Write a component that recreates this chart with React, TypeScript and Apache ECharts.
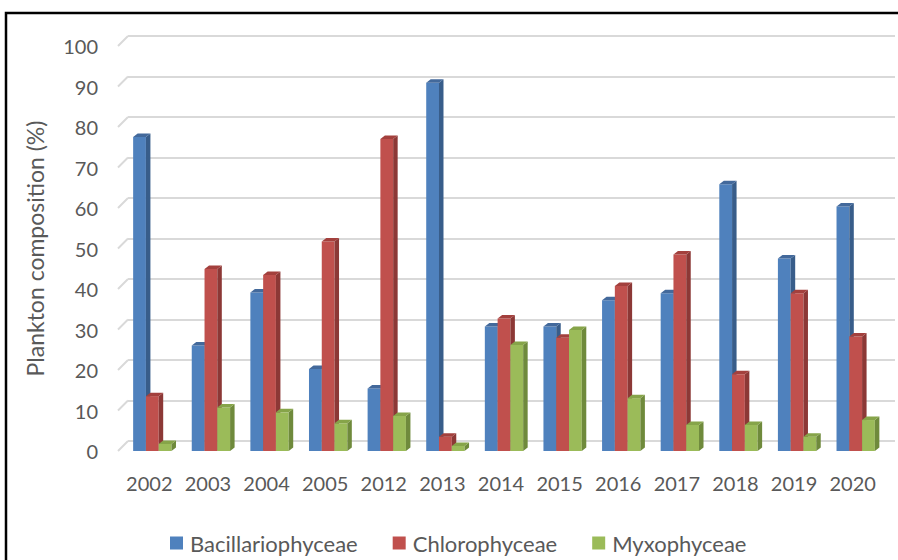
import React, { useEffect, useRef } from "react";
import * as echarts from "echarts";

const categories = ["2002", "2003", "2004", "2005", "2012", "2013", "2014", "2015", "2016", "2017", "2018", "2019", "2020"];
const bacillariophyceae = [77.3, 25.8, 38.9, 20.0, 15.2, 90.7, 30.5, 30.5, 37.0, 38.7, 65.6, 47.3, 60.1];
const chlorophyceae = [13.3, 44.7, 43.2, 51.5, 76.8, 3.3, 32.5, 27.7, 40.5, 48.3, 18.7, 38.7, 28.0];
const myxophyceae = [1.5, 10.5, 9.3, 6.6, 8.4, 1.0, 25.9, 29.6, 12.8, 6.2, 6.2, 3.3, 7.4];
const seriesNames = ["Bacillariophyceae", "Chlorophyceae", "Myxophyceae"];
const yTicks = [0, 10, 20, 30, 40, 50, 60, 70, 80, 90, 100];

const FONT = "Lato";
const TEXT = "#595959";
const GRIDC = "#d9d9d9";

const palettes = [
  { front: "#4f81bd", side: "#385d8a", top: "#43699b" },
  { front: "#c0504d", side: "#8c3836", top: "#a3403d" },
  { front: "#9bbb59", side: "#6f8a3c", top: "#86a449" },
];

function makeBar(k: number) {
  const p = palettes[k];
  return (params: any, api: any) => {
    const idx = api.value(0);
    const v = api.value(1);
    const t = api.coord([idx, v]);
    const b = api.coord([idx, 0]);
    const band = api.size([1, 0])[0];
    const bw = band * 0.218;
    const dx = 4.5;
    const dy = 3.5;
    const shift = 3;
    const x = t[0] - 1.5 * bw + k * bw + shift;
    const yT = t[1] - 1;
    const yB = b[1];
    return {
      type: "group",
      children: [
        { type: "rect", shape: { x, y: yT, width: bw, height: yB - yT }, style: { fill: p.front } },
        {
          type: "polygon",
          shape: { points: [[x + bw, yT], [x + bw + dx, yT - dy], [x + bw + dx, yB - dy], [x + bw, yB]] },
          style: { fill: p.side },
        },
        {
          type: "polygon",
          shape: { points: [[x, yT], [x + dx, yT - dy], [x + bw + dx, yT - dy], [x + bw, yT]] },
          style: { fill: p.top },
        },
      ],
    };
  };
}

export default function App() {
  const ref = useRef<HTMLDivElement>(null);
  useEffect(() => {
    if (!ref.current) return;
    const chart = echarts.init(ref.current, null, { renderer: "svg" });
    const seriesData = [bacillariophyceae, chlorophyceae, myxophyceae];
    chart.setOption({
      animation: false,
      backgroundColor: "#ffffff",
      color: palettes.map((p) => p.front),
      textStyle: { fontFamily: FONT },
      graphic: [
        {
          type: "rect",
          shape: { x: 6, y: 13, width: 1000, height: 1000 },
          style: { fill: "none", stroke: "#000", lineWidth: 2.5 },
          z: 100,
        },
      ],
      legend: {
        data: seriesNames,
        icon: "rect",
        left: 165,
        top: 527,
        itemWidth: 13,
        itemHeight: 13,
        itemGap: 35,
        textStyle: { fontFamily: FONT, fontSize: 22, color: TEXT, padding: [0, 0, 0, 2] },
      },
      grid: [
        { left: 120, top: 46, width: 762, height: 405 },
        { left: 128, top: 36, width: 767, height: 405 },
      ],
      xAxis: [
        {
          type: "category",
          gridIndex: 0,
          data: categories,
          axisLine: { show: false },
          axisTick: { show: false },
          axisLabel: { interval: 0, fontFamily: FONT, fontSize: 20, color: TEXT, margin: 22 },
        },
        {
          type: "category",
          gridIndex: 1,
          data: categories,
          show: false,
        },
      ],
      yAxis: [
        {
          type: "value",
          gridIndex: 0,
          min: 0,
          max: 100,
          interval: 10,
          splitLine: { show: false },
          axisLine: { show: false },
          axisTick: { show: false },
          axisLabel: { fontFamily: FONT, fontSize: 20, color: TEXT, margin: 22 },
          name: "Plankton composition (%)",
          nameLocation: "middle",
          nameGap: 74,
          nameTextStyle: { fontFamily: FONT, fontSize: 23, color: TEXT },
        },
        {
          type: "value",
          gridIndex: 1,
          min: 0,
          max: 100,
          interval: 10,
          axisLine: { show: false },
          axisTick: { show: false },
          axisLabel: { show: false },
          splitLine: { show: true, lineStyle: { color: GRIDC, width: 2 } },
        },
      ],
      series: [
        {
          type: "custom",
          name: "grid-slants",
          xAxisIndex: 0,
          yAxisIndex: 0,
          silent: true,
          z: 1,
          data: yTicks.map((v) => [0, v]),
          encode: { x: 0, y: 1 },
          renderItem: (params: any, api: any) => {
            const y = api.coord([0, api.value(1)])[1];
            const x0 = params.coordSys.x - 2;
            return {
              type: "line",
              shape: { x1: x0, y1: y, x2: x0 + 10, y2: y - 10 },
              style: { stroke: GRIDC, lineWidth: 2 },
            };
          },
        },
        ...seriesNames.map((name, k) => ({
          type: "custom",
          name,
          xAxisIndex: 0,
          yAxisIndex: 0,
          z: 2,
          itemStyle: { color: palettes[k].front },
          data: seriesData[k].map((v, i) => [i, v]),
          encode: { x: 0, y: 1 },
          renderItem: makeBar(k),
        })),
      ],
    });
    return () => chart.dispose();
  }, []);
  return (
    <div style={{ position: "fixed", left: 0, top: 0, width: 898, height: 560, overflow: "hidden", background: "#fff" }}>
      <div ref={ref} style={{ width: 898, height: 560 }} />
    </div>
  );
}
